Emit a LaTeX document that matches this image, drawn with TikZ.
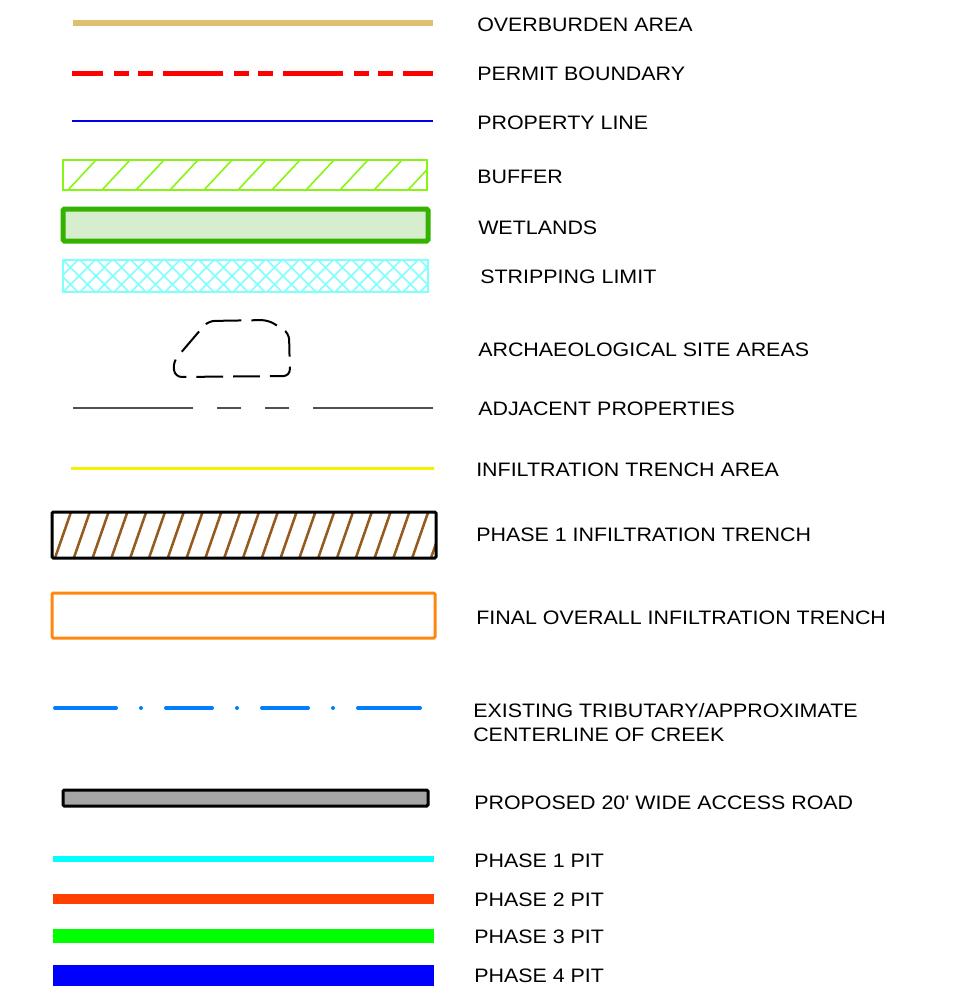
\documentclass[tikz,border=0pt]{standalone}
\usepackage{fontspec}
\setmainfont{Liberation Sans}[FakeStretch=1.1, Ligatures=TeXOff]
\definecolor{overburden}{RGB}{221,193,112}
\definecolor{permit}{RGB}{255,0,0}
\definecolor{property}{RGB}{0,0,230}
\definecolor{buffer}{RGB}{135,245,20}
\definecolor{wetedge}{RGB}{51,178,0}
\definecolor{wetfill}{RGB}{214,238,206}
\definecolor{strip}{RGB}{128,255,255}
\definecolor{adjacent}{RGB}{80,80,80}
\definecolor{infarea}{RGB}{245,240,0}
\definecolor{trenchhatch}{RGB}{150,90,30}
\definecolor{finaltrench}{RGB}{255,135,15}
\definecolor{creek}{RGB}{0,125,255}
\definecolor{road}{RGB}{166,166,166}
\definecolor{pitone}{RGB}{0,255,255}
\definecolor{pittwo}{RGB}{255,64,0}
\definecolor{pitthree}{RGB}{0,255,0}
\definecolor{pitfour}{RGB}{0,0,255}
\tikzset{
  lbl/.style={anchor=west, inner sep=0pt, align=left, font=\fontsize{14.6pt}{17.3pt}\selectfont},
  hatch/.style={line cap=butt},
  pit/.style={line cap=butt},
}

\begin{document}
\begin{tikzpicture}[x=0.75pt, y=-0.75pt]
    \useasboundingbox (0,0) rectangle (963,990);
    % plain lines
    \draw[overburden, line width=4pt] (73,23) -- (433,23);
    \draw[permit, line width=3.75pt, dash pattern=on 45pt off 8.25pt on 11.25pt off 6.75pt on 11.25pt off 7.5pt, dash phase=21.75pt] (72,73) -- (433,73);
    \draw[property, line width=1.6pt] (72,121) -- (433,121);
    % buffer
    \begin{scope}
      \clip (63,160) rectangle (427,190);
      \foreach \x in {68,102,...,440}
        \draw[buffer, line width=1.2pt, hatch] (\x,190) -- ++(28,-30);
    \end{scope}
    \draw[buffer, line width=1.5pt] (63,160) rectangle (427,190);
    % wetlands
    \draw[wetedge, fill=wetfill, line width=3.75pt, rounded corners=1pt] (63,209) rectangle (428,241);
    % stripping limit
    \begin{scope}
      \clip (63,260) rectangle (428,292);
      \foreach \x in {29,46,...,450} {
        \draw[strip, line width=1.1pt] (\x,292) -- ++(32,-32);
        \draw[strip, line width=1.1pt] (\x,260) -- ++(32,32);
      }
    \end{scope}
    \draw[strip, line width=1.5pt] (63,260) rectangle (428,292);
    % archaeological site
    \draw[black, line width=1.5pt, dash pattern=on 20pt off 7.5pt, rounded corners=5pt]
      (208,321) -- (268,320) -- (289,333) -- (290,376) -- (175,377) -- (173,362) -- cycle;
    % adjacent properties
    \draw[adjacent, line width=2pt, dash pattern=on 90pt off 18pt on 18pt off 18pt on 18pt off 18pt on 200pt] (73,408) -- (433,408);
    % infiltration trench area
    \draw[infarea, line width=2.25pt] (71,468) -- (434,468);
    % phase 1 infiltration trench
    \begin{scope}
      \clip (52,512) rectangle (436,558);
      \foreach \x in {36.2,55,...,450}
        \draw[trenchhatch, line width=1.9pt, hatch] (\x,558) -- ++(16,-46);
    \end{scope}
    \draw[black, line width=2.25pt, rounded corners=1pt] (52,512) rectangle (436,558);
    % final overall infiltration trench
    \draw[finaltrench, line width=2.25pt, rounded corners=1pt] (52,593) rectangle (435,638);
    % creek
    \draw[creek, line width=3pt, line cap=round, dash pattern=on 45.75pt off 18.75pt on 0pt off 18.75pt on 34.5pt off 18.75pt on 0pt off 18.75pt on 34.5pt off 18.75pt on 0pt off 18.75pt on 46.5pt off 75pt] (55,708) -- (420,708);
    % access road
    \draw[black, fill=road, line width=2.25pt, rounded corners=1pt] (63,790) rectangle (428,806);
    % pits
    \draw[pitone, line width=4.5pt, pit] (53,859) -- (434,859);
    \draw[pittwo, line width=7.5pt, pit] (53,899) -- (434,899);
    \draw[pitthree, line width=10.5pt, pit] (53,935.5) -- (434,935.5);
    \draw[pitfour, line width=15.75pt, pit] (53,975.5) -- (434,975.5);
    % labels
    \node[lbl] (tOverburden) at (477,24.5) {OVERBURDEN AREA};
    \node[lbl] (tPermit) at (477,74) {PERMIT BOUNDARY};
    \node[lbl] (tProperty) at (477,122.5) {PROPERTY LINE};
    \node[lbl] (tBuffer) at (477,176.5) {BUFFER};
    \node[lbl] (tWetlands) at (478,227.5) {WETLANDS};
    \node[lbl] (tStripping) at (480,276.5) {STRIPPING LIMIT};
    \node[lbl] (tArchaeo) at (478,349.5) {ARCHAEOLOGICAL SITE AREAS};
    \node[lbl] (tAdjacent) at (478,408.5) {ADJACENT PROPERTIES};
    \node[lbl] (tInfArea) at (476,469.5) {INFILTRATION TRENCH AREA};
    \node[lbl] (tTrenchOne) at (476,535) {PHASE 1 INFILTRATION TRENCH};
    \node[lbl] (tTrenchFinal) at (476,617.5) {FINAL OVERALL INFILTRATION TRENCH};
    \node[lbl] (tCreek) at (473,722.5) {EXISTING TRIBUTARY/APPROXIMATE\\CENTERLINE OF CREEK};
    \node[lbl] (tRoad) at (474,802.5) {PROPOSED 20' WIDE ACCESS ROAD};
    \node[lbl] (tPitOne) at (474,861) {PHASE 1 PIT};
    \node[lbl] (tPitTwo) at (474,900) {PHASE 2 PIT};
    \node[lbl] (tPitThree) at (474,937) {PHASE 3 PIT};
    \node[lbl] (tPitFour) at (474,976) {PHASE 4 PIT};
  \end{tikzpicture}
\end{document}
